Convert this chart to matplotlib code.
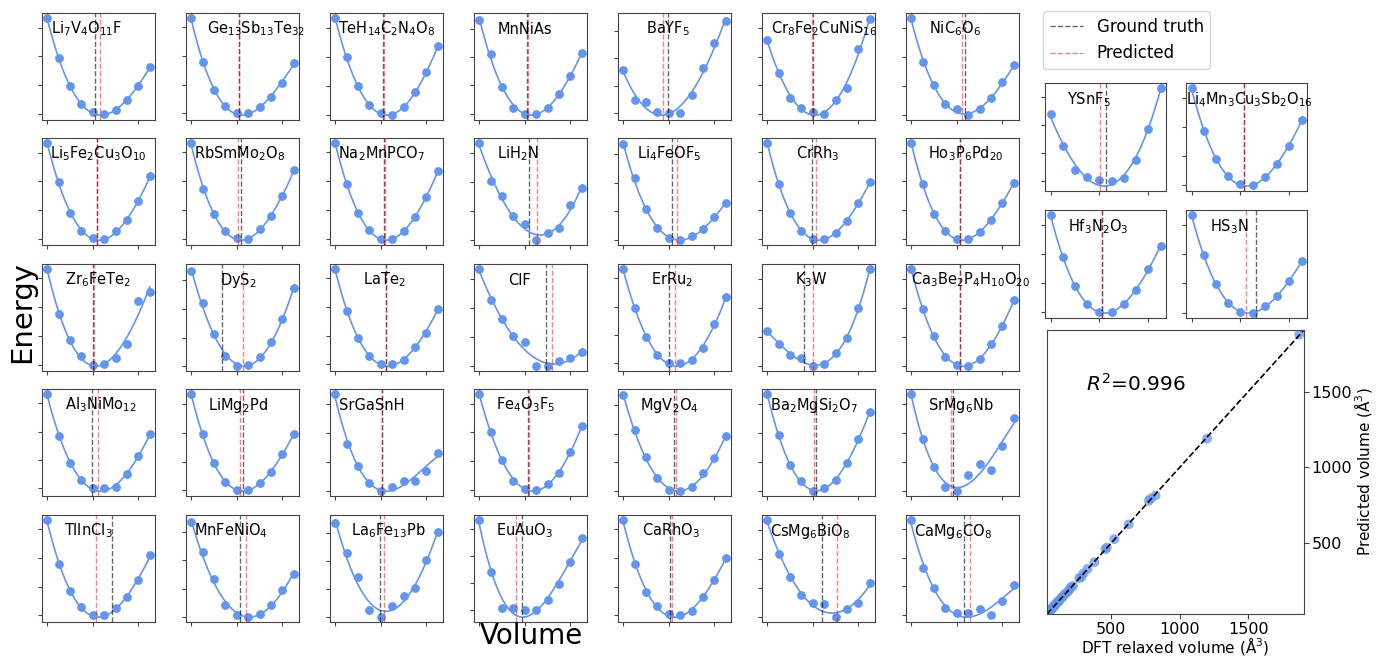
import numpy as np
import matplotlib.pyplot as plt
from matplotlib.lines import Line2D
from matplotlib.ticker import MaxNLocator

# volume steps (10 strained cells per material)
steps = np.arange(10)

names = [
    r'Li$_7$V$_4$O$_{11}$F', r'Ge$_{13}$Sb$_{13}$Te$_{32}$', r'TeH$_{14}$C$_2$N$_4$O$_8$', 'MnNiAs',
    r'BaYF$_5$', r'Cr$_8$Fe$_2$CuNiS$_{16}$', r'NiC$_6$O$_6$',
    r'Li$_5$Fe$_2$Cu$_3$O$_{10}$', r'RbSmMo$_2$O$_8$', r'Na$_2$MnPCO$_7$', r'LiH$_2$N',
    r'Li$_4$FeOF$_5$', r'CrRh$_3$', r'Ho$_3$P$_6$Pd$_{20}$',
    r'Zr$_6$FeTe$_2$', r'DyS$_2$', r'LaTe$_2$', 'ClF', r'ErRu$_2$', r'K$_3$W',
    r'Ca$_3$Be$_2$P$_4$H$_{10}$O$_{20}$',
    r'Al$_3$NiMo$_{12}$', r'LiMg$_2$Pd', 'SrGaSnH', r'Fe$_4$O$_3$F$_5$', r'MgV$_2$O$_4$',
    r'Ba$_2$MgSi$_2$O$_7$', r'SrMg$_6$Nb',
    r'TlInCl$_3$', r'MnFeNiO$_4$', r'La$_6$Fe$_{13}$Pb', r'EuAuO$_3$', r'CaRhO$_3$',
    r'CsMg$_6$BiO$_8$', r'CaMg$_6$CO$_8$',
    r'YSnF$_5$', r'Li$_4$Mn$_3$Cu$_3$Sb$_2$O$_{16}$', r'Hf$_3$N$_2$O$_3$', r'HS$_3$N',
]

# relative energies (normalised)
energies = [
    [1, 0.58, 0.29, 0.104, 0.022, 0, 0.045, 0.153, 0.295, 0.493],
    [1, 0.54, 0.24, 0.07, 0, 0, 0.067, 0.17, 0.315, 0.528],
    [1, 0.596, 0.296, 0.101, 0.019, 0, 0.079, 0.24, 0.446, 0.708],
    [1, 0.633, 0.286, 0.058, 0, 0, 0.062, 0.208, 0.405, 0.645],
    [0.467, 0.144, 0.124, 0.019, 0, 0, 0.2, 0.49, 0.77, 1.0],
    [0.78, 0.427, 0.168, 0.065, 0.019, 0, 0.149, 0.275, 0.683, 1.0],
    [1, 0.547, 0.312, 0.116, 0.058, 0, 0.062, 0.174, 0.337, 0.511],
    [1, 0.596, 0.268, 0.079, 0.004, 0, 0.075, 0.192, 0.389, 0.653],
    [1, 0.522, 0.257, 0.081, 0.004, 0, 0.096, 0.232, 0.441, 0.717],
    [1, 0.572, 0.275, 0.089, 0, 0.004, 0.082, 0.227, 0.442, 0.706],
    [1, 0.605, 0.45, 0.251, 0.165, 0, 0.072, 0.124, 0.364, 0.536],
    [1, 0.642, 0.325, 0.125, 0.019, 0, 0.042, 0.117, 0.238, 0.389],
    [1, 0.577, 0.275, 0.087, 0, 0.004, 0.068, 0.192, 0.37, 0.589],
    [1, 0.571, 0.267, 0.086, 0, 0, 0.079, 0.203, 0.38, 0.583],
    [1, 0.528, 0.26, 0.087, 0, 0.011, 0.075, 0.219, 0.664, 0.758],
    [1, 0.664, 0.34, 0.103, 0, 0.008, 0.092, 0.256, 0.492, 0.824],
    [1, 0.564, 0.273, 0.091, 0, 0, 0.049, 0.182, 0.333, 0.583],
    [1, 0.675, 0.48, 0.31, 0.253, 0, 0.004, 0.051, 0.079, 0.144],
    [1, 0.584, 0.28, 0.091, 0, 0, 0.039, 0.159, 0.414, 0.701],
    [0.363, 0.226, 0.119, 0.081, 0, 0.022, 0.137, 0.289, 0.6, 1.0],
    [1, 0.588, 0.307, 0.094, 0.011, 0, 0.071, 0.225, 0.412, 0.674],
    [1, 0.555, 0.272, 0.087, 0, 0, 0.011, 0.151, 0.34, 0.574],
    [1, 0.585, 0.283, 0.083, 0.008, 0, 0.075, 0.196, 0.377, 0.585],
    [1, 0.48, 0.258, 0.079, 0, 0.039, 0.104, 0.104, 0.204, 0.394],
    [1, 0.61, 0.318, 0.095, 0.011, 0, 0.064, 0.178, 0.398, 0.667],
    [1, 0.64, 0.356, 0.133, 0.011, 0, 0.045, 0.185, 0.344, 0.572],
    [1, 0.574, 0.27, 0.1, 0, 0.03, 0.119, 0.293, 0.537, 0.815],
    [1, 0.537, 0.249, 0.039, 0, 0.171, 0.278, 0.217, 0.463, 0.747],
    [1, 0.537, 0.25, 0.082, 0, 0.007, 0.071, 0.187, 0.366, 0.627],
    [1, 0.686, 0.402, 0.123, 0.023, 0, 0.038, 0.126, 0.287, 0.456],
    [1, 0.682, 0.423, 0.08, 0, 0.117, 0.223, 0.307, 0.606, 0.912],
    [1, 0.426, 0.023, 0.023, 0, 0.004, 0.112, 0.291, 0.539, 0.795],
    [1, 0.541, 0.242, 0.093, 0.011, 0, 0.048, 0.186, 0.365, 0.605],
    [1, 0.649, 0.408, 0.223, 0.142, 0.131, 0, 0.082, 0.149, 0.355],
    [1, 0.487, 0.275, 0.073, 0.018, 0.011, 0.055, 0, 0.139, 0.311],
    [0.723, 0.377, 0.115, 0.05, 0.012, 0, 0.038, 0.223, 0.558, 1.0],
    [1, 0.552, 0.265, 0.086, 0.004, 0, 0.075, 0.209, 0.403, 0.664],
    [1, 0.568, 0.267, 0.086, 0.004, 0, 0.086, 0.229, 0.44, 0.68],
    [1, 0.587, 0.294, 0.104, 0.011, 0, 0.067, 0.171, 0.32, 0.524],
]

# equilibrium volume (in step units)
gt_vol = [4.15, 4.2, 4.22, 4.19, 3.93, 4.06, 4.68,
          4.33, 4.36, 4.27, 4.36, 4.25, 3.95, 4.30,
          4.06, 2.70, 4.42, 5.90, 4.0, 3.22, 4.32,
          3.95, 4.51, 4.09, 4.24, 4.44, 4.24, 3.71,
          5.70, 4.27, 3.89, 3.74, 4.1, 4.77, 4.62,
          4.50, 4.30, 4.19, 5.30]
pred_vol = [4.59, 4.18, 4.26, 4.30, 3.5, 3.95, 4.47,
            4.33, 4.10, 4.36, 5.06, 4.69, 4.24, 4.24,
            4.12, 4.51, 4.42, 6.39, 4.5, 3.98, 4.32,
            4.47, 4.30, 4.09, 4.39, 4.64, 4.09, 3.45,
            4.24, 4.83, 4.27, 3.27, 4.3, 6.08, 5.12,
            4.04, 4.30, 4.22, 4.42]

# parity plot: DFT vs predicted volume (A^3)
dft_volume = [1870, 1200, 825, 790, 775, 630, 525, 470, 460, 380, 330, 300, 285,
              270, 225, 210, 200, 190, 175, 160, 150, 140, 130, 120, 110, 100,
              95, 90, 85, 80, 75, 70, 65, 60, 55, 50, 45, 40, 115]
pred_volume = [1875, 1190, 815, 795, 780, 625, 528, 472, 462, 376, 332, 302, 278,
               272, 220, 212, 198, 185, 172, 163, 148, 142, 128, 118, 112, 102,
               93, 92, 84, 82, 74, 72, 66, 58, 56, 52, 46, 42, 118]

# label x positions (axes fraction)
label_x = [0.39, 0.62, 0.50, 0.45, 0.44, 0.55, 0.43,
           0.50, 0.47, 0.46, 0.39, 0.45, 0.49, 0.53,
           0.50, 0.46, 0.48, 0.40, 0.48, 0.44, 0.57,
           0.52, 0.46, 0.37, 0.46, 0.45, 0.46, 0.49,
           0.41, 0.40, 0.52, 0.45, 0.47, 0.43, 0.42,
           0.36, 0.52, 0.44, 0.36]

W, H = 1376, 661
blue = '#6495ED'


def px_axes(fig, left, top, w, h):
    return fig.add_axes([left / W, 1 - (top + h) / H, w / W, h / H])


def eos_panel(ax, i):
    e = np.array(energies[i])
    coef = np.polyfit(steps, e, 3)
    xs = np.linspace(steps[0], steps[-1], 200)
    ax.plot(xs, np.polyval(coef, xs), color=blue, lw=1.2)
    ax.plot(steps, e, 'o', color=blue, ms=5.3)
    ax.axvline(gt_vol[i], color='k', ls='--', lw=1, alpha=0.6)
    ax.axvline(pred_vol[i], color='red', ls='--', lw=1, alpha=0.5)
    ax.xaxis.set_major_locator(MaxNLocator(3))
    ax.yaxis.set_major_locator(MaxNLocator(4))
    ax.tick_params(labelbottom=False, labelleft=False, length=3, color='#444')
    for s in ax.spines.values():
        s.set_color('#444')
    ax.text(label_x[i], 0.85, names[i], transform=ax.transAxes, ha='center',
            va='center', fontsize=10.5)


fig = plt.figure(figsize=(W / 100, H / 100), dpi=100)

col_left = [42, 186, 330, 474, 618, 762, 906]
row_top = [13, 138, 264, 389, 515]
k = 0
for r in range(5):
    for c in range(7):
        ax = px_axes(fig, col_left[c], row_top[r], 113, 107)
        eos_panel(ax, k)
        k += 1

for r, top in enumerate([83, 210]):
    for c, left in enumerate([1045, 1186]):
        ax = px_axes(fig, left, top, 121, 108)
        eos_panel(ax, k)
        k += 1

fig.text(22 / W, 1 - 312 / H, 'Energy', rotation=90, ha='center', va='center', fontsize=21)
fig.text(531 / W, 1 - 636 / H, 'Volume', ha='center', va='center', fontsize=20)

handles = [Line2D([], [], color='k', ls='--', lw=1, alpha=0.6),
           Line2D([], [], color='red', ls='--', lw=1, alpha=0.5)]
fig.legend(handles, ['Ground truth', 'Predicted'], loc='upper left',
           bbox_to_anchor=(1035 / W, 1 - 3 / H), fontsize=12, frameon=True)

# parity plot
axp = px_axes(fig, 1047, 330, 257, 284)
lo, hi = min(dft_volume) - 5, max(dft_volume) + 35
axp.plot([lo, hi], [lo, hi], 'k--', lw=1.2)
axp.scatter(dft_volume, pred_volume, s=50, color=blue, alpha=0.75, edgecolors='none')
axp.set_xlim(lo, hi)
axp.set_ylim(lo, hi)
axp.set_xticks([500, 1000, 1500])
axp.set_yticks([500, 1000, 1500])
axp.yaxis.tick_right()
axp.yaxis.set_label_position('right')
axp.tick_params(labelsize=11.5, color='#444', pad=2)
for s in axp.spines.values():
    s.set_color('#444')
axp.set_xlabel(r'DFT relaxed volume ($\mathrm{\AA}^3$)', fontsize=11, labelpad=-1)
axp.set_ylabel(r'Predicted volume ($\mathrm{\AA}^3$)', fontsize=11, labelpad=0)
axp.text(0.15, 0.81, r'$R^2$=0.996', transform=axp.transAxes, fontsize=14.5, va='center')

fig.savefig('out.png', dpi=100)
